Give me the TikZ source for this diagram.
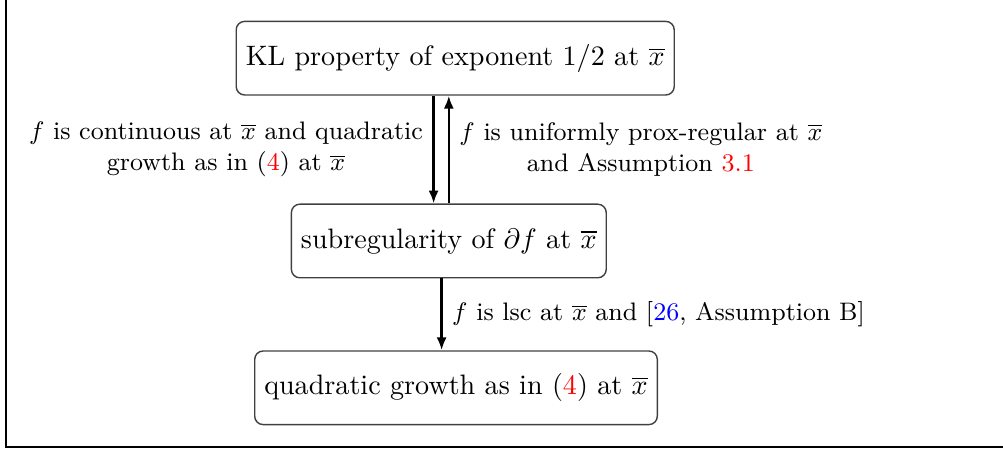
\documentclass[tikz,border=0pt]{standalone}
\usepackage{amsmath}
\usepackage{xcolor}
\usetikzlibrary{arrows.meta,positioning,calc}

\begin{document}
\begin{tikzpicture}[
  >={Latex[length=4.6pt,width=3.6pt]},
  box/.style={draw=black!75, rounded corners=3pt, line width=0.5pt,
    align=center, inner sep=3.4pt, minimum height=0.92cm},
  implies/.style={->, line width=0.9pt},
  cond/.style={font=\small, align=center},
  frameline/.style={line width=0.8pt}
]
\useasboundingbox (0,0) rectangle (12.5375,5.6375);

% outer frame, only left and bottom edges show
\draw[frameline] (0.075,5.7) -- (0.075,0.05) -- (12.6,0.05);

\node[box] (kl) at (5.69,4.91)
  {KL property of exponent $1/2$ at $\overline{x}$};
\node[box] (subreg) at (5.61,2.625)
  {subregularity of $\partial f$ at $\overline{x}$};
\node[box] (qg) at (5.70,0.79)
  {quadratic growth as in (\textcolor{red}{4}) at $\overline{x}$};

\draw[implies] ([xshift=-0.19cm]subreg.north |- kl.south) -- ([xshift=-0.19cm]subreg.north)
  node[cond, midway, left]
  {$f$ is continuous at $\overline{x}$ and quadratic\\growth as in (\textcolor{red}{4}) at $\overline{x}$};
\draw[implies] (subreg.north) -- (subreg.north |- kl.south)
  node[cond, midway, right]
  {$f$ is uniformly prox-regular at $\overline{x}$\\and Assumption \textcolor{red}{3.1}};
\draw[implies] ([xshift=-0.09cm]subreg.south) -- ([xshift=-0.09cm]subreg.south |- qg.north)
  node[cond, midway, right]
  {$f$ is lsc at $\overline{x}$ and [\textcolor{blue}{26}, Assumption B]};
\end{tikzpicture}
\end{document}
